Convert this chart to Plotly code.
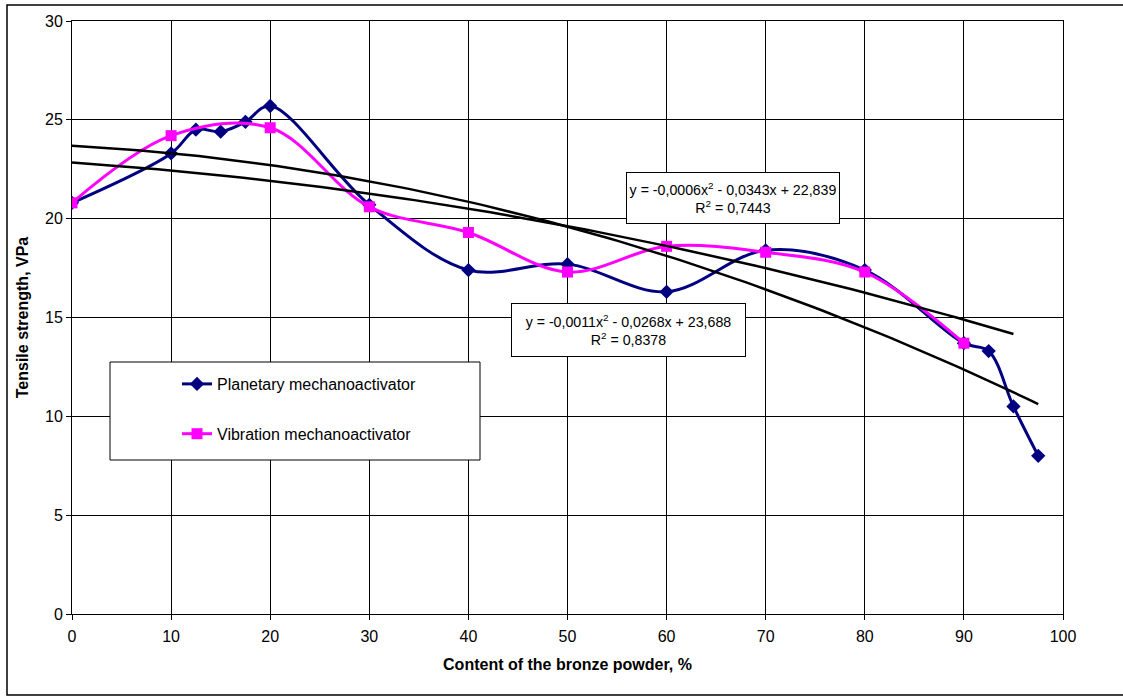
import numpy as np
import plotly.graph_objects as go

# ---- data ----
plan_x = [0, 10, 12.5, 15, 17.5, 20, 30, 40, 50, 60, 70, 80, 90, 92.5, 95, 97.5]
plan_y = [20.8, 23.3, 24.5, 24.4, 24.9, 25.7, 20.7, 17.4, 17.7, 16.3, 18.4, 17.4, 13.7, 13.3, 10.5, 8.0]
vib_x = [0, 10, 20, 30, 40, 50, 60, 70, 80, 90]
vib_y = [20.8, 24.2, 24.6, 20.6, 19.3, 17.3, 18.6, 18.3, 17.3, 13.7]

# trendline coefficients as displayed (a*x^2 + b*x + c)
trend_vib = [-0.0006, -0.0343, 22.839]
trend_vib_range = [0, 95]
trend_plan = [-0.0011, -0.0268, 23.688]
trend_plan_range = [0, 97.5]

x_ticks = [0, 10, 20, 30, 40, 50, 60, 70, 80, 90, 100]
y_ticks = [0, 5, 10, 15, 20, 25, 30]

FONT = "Arial, Liberation Sans, sans-serif"

fig = go.Figure()
fig.add_trace(go.Scatter(
    x=plan_x, y=plan_y, mode="lines+markers", name="Planetary mechanoactivator",
    line=dict(color="#000080", width=3, shape="spline", smoothing=1),
    marker=dict(symbol="diamond", size=11, color="#000080"),
    legendgroup="a"))
fig.add_trace(go.Scatter(
    x=vib_x, y=vib_y, mode="lines+markers", name="Vibration mechanoactivator",
    line=dict(color="#FF00FF", width=3, shape="spline", smoothing=1),
    marker=dict(symbol="square", size=11, color="#FF00FF"),
    legendgroup="b"))

for coef, rng in [(trend_vib, trend_vib_range), (trend_plan, trend_plan_range)]:
    xs = np.linspace(rng[0], rng[1], 100)
    ys = np.polyval(coef, xs)
    fig.add_trace(go.Scatter(x=xs, y=ys, mode="lines", showlegend=False,
                             line=dict(color="black", width=2.5), hoverinfo="skip"))

L, R, T, B = 72, 60, 21, 83
W, H = 1123, 697
pw, ph = W - L - R, H - T - B

def px_x(p):
    return (p - L) / pw

def px_y(p):
    return (H - B - p) / ph

fig.update_layout(
    width=W, height=H,
    margin=dict(l=L, r=R, t=T, b=B),
    paper_bgcolor="white", plot_bgcolor="white",
    font=dict(family=FONT, size=16, color="black"),
    showlegend=True,
    legend=dict(x=px_x(177), y=px_y(367), xanchor="left", yanchor="top",
                bgcolor="rgba(0,0,0,0)", borderwidth=0, tracegroupgap=26,
                font=dict(size=16, family=FONT)),
    xaxis=dict(range=[0, 100], tickvals=x_ticks, showgrid=True, gridcolor="black",
               gridwidth=1, zeroline=False, showline=True, linecolor="black", linewidth=1,
               mirror=True, ticks="outside", ticklen=5, tickcolor="black",
               tickfont=dict(size=16), ticklabelstandoff=3,
               title=dict(text="<b>Content of the bronze powder, %</b>", font=dict(size=16), standoff=14)),
    yaxis=dict(range=[0, 30], tickvals=y_ticks, showgrid=True, gridcolor="black",
               gridwidth=1, zeroline=False, showline=True, linecolor="black", linewidth=1,
               mirror=True, ticks="outside", ticklen=5, tickcolor="black",
               tickfont=dict(size=16),
               title=dict(text="<b>Tensile strength, VPa</b>", font=dict(size=16), standoff=12)),
    shapes=[
        dict(type="rect", xref="paper", yref="paper",
             x0=px_x(7), x1=px_x(1130), y0=px_y(695), y1=px_y(5),
             line=dict(color="black", width=1.5), fillcolor="rgba(0,0,0,0)", layer="below"),
        dict(type="rect", xref="paper", yref="paper",
             x0=px_x(110), x1=px_x(480), y0=px_y(460), y1=px_y(362),
             line=dict(color="black", width=1), fillcolor="white", layer="above"),
    ],
    annotations=[
        dict(x=px_x(733), y=px_y(198), xref="paper", yref="paper", showarrow=False,
             text="y = -0,0006x<sup>2</sup> - 0,0343x + 22,839<br>R<sup>2</sup> = 0,7443",
             align="center", bgcolor="white", bordercolor="black", borderwidth=1,
             borderpad=1, width=210, height=48, font=dict(size=14.2),
             xanchor="center", yanchor="middle"),
        dict(x=px_x(628), y=px_y(330), xref="paper", yref="paper", showarrow=False,
             text="y = -0,0011x<sup>2</sup> - 0,0268x + 23,688<br>R<sup>2</sup> = 0,8378",
             align="center", bgcolor="white", bordercolor="black", borderwidth=1,
             borderpad=1, width=231, height=50, font=dict(size=14.2),
             xanchor="center", yanchor="middle"),
    ],
)

fig.write_html("out.html", config={"displayModeBar": False},
               post_script="document.body.style.margin='0';document.body.style.padding='0';")
